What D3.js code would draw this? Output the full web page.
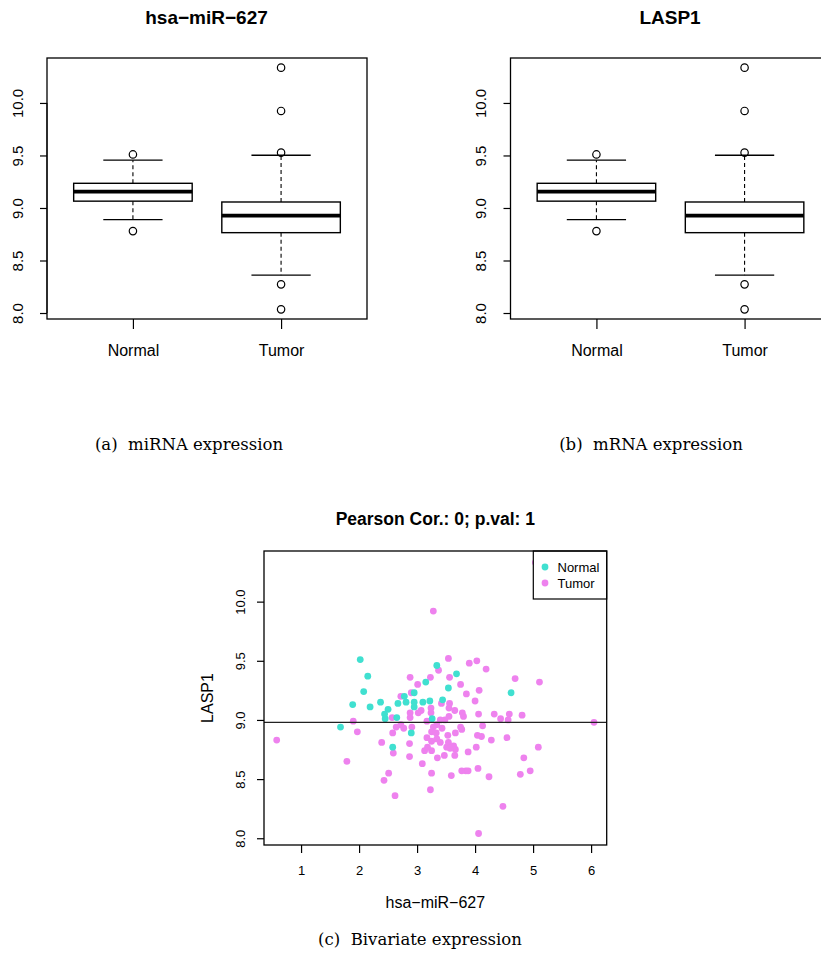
<!DOCTYPE html>
<html>
<head>
<meta charset="utf-8">
<script src="https://cdn.jsdelivr.net/npm/d3@7"></script>
<style>
  body { margin: 0; background: #fff; }
  text { font-family: "Liberation Sans", Arial, sans-serif; fill: #000; }
  .cap { font-family: "DejaVu Serif", serif; white-space: pre; }
</style>
</head>
<body>
<svg id="fig" width="821" height="965"></svg>
<script>
// ---- data ----
const groups = ["Normal", "Tumor"];
// [lower whisker, Q1, median, Q3, upper whisker]
const normalStats = [8.89, 9.065, 9.155, 9.235, 9.455];
const tumorStats  = [8.36, 8.765, 8.927, 9.057, 9.502];
const normalOut = [9.51, 8.78];
const tumorOut  = [10.336, 9.924, 9.527, 8.273, 8.035];

const yTicks = [8.0, 8.5, 9.0, 9.5, 10.0];
const xTicks = [1, 2, 3, 4, 5, 6];

// scatter: hsa-miR-627 (x) vs LASP1 (y)
const normalX = [2.02, 2.15, 2.08, 1.89, 2.19, 2.37, 2.50, 2.67, 2.78, 2.81, 2.95, 2.95, 2.95, 3.10,
                 3.15, 3.22, 2.44, 2.45, 2.65, 1.68, 2.58, 2.90, 3.26, 3.34, 3.68, 3.54, 3.44, 4.62];
const normalY = [9.51, 9.37, 9.24, 9.13, 9.11, 9.15, 9.09, 9.14, 9.20, 9.15, 9.23, 9.15, 9.11, 9.15,
                 9.32, 9.16, 9.05, 9.01, 9.02, 8.94, 8.77, 8.89, 9.01, 9.46, 9.39, 9.27, 9.17, 9.23];
const tumorX = [5.04, 3.28, 3.54, 3.37, 3.90, 4.03, 4.19, 4.69, 5.11, 2.88, 3.01, 3.23, 3.56, 3.75,
                3.85, 4.07, 4.00, 2.72, 2.90, 3.07, 3.42, 3.56, 3.24, 3.24, 3.55, 3.65, 3.78, 3.80,
                4.06, 4.33, 4.44, 4.59, 4.57, 4.81, 2.88, 2.88, 3.02, 6.05, 3.40, 3.48, 3.55, 3.17,
                2.72, 2.77, 2.91, 3.28, 3.34, 3.43, 3.25, 3.33, 3.75, 3.77, 4.13, 3.66, 3.53, 4.04,
                4.11, 4.28, 4.55, 2.87, 3.17, 3.25, 3.34, 3.40, 3.54, 3.51, 3.63, 3.66, 3.57, 3.13,
                3.25, 3.18, 4.02, 3.88, 5.09, 3.47, 3.35, 3.65, 2.87, 4.84, 3.09, 4.05, 3.77, 3.84,
                3.88, 4.24, 4.78, 4.95, 3.25, 3.59, 3.23, 4.48, 4.06, 0.58, 1.90, 1.97, 1.79, 2.39,
                2.58, 2.59, 2.51, 2.43, 2.62, 2.57, 2.64];
const tumorY = [10.33, 9.92, 9.52, 9.42, 9.48, 9.50, 9.43, 9.35, 9.32, 9.36, 9.30, 9.36, 9.36, 9.30,
                9.22, 9.25, 9.16, 9.20, 9.23, 9.08, 9.14, 9.14, 9.10, 9.06, 9.10, 9.08, 9.06, 9.03,
                9.05, 9.05, 9.01, 9.05, 9.00, 9.04, 9.06, 9.02, 9.06, 8.98, 9.00, 9.00, 9.03, 8.99,
                8.96, 8.93, 8.94, 8.94, 8.96, 8.93, 8.90, 8.89, 8.94, 8.92, 8.95, 8.89, 8.87, 8.87,
                8.86, 8.83, 8.85, 8.80, 8.85, 8.82, 8.84, 8.81, 8.81, 8.77, 8.78, 8.75, 8.76, 8.74,
                8.74, 8.77, 8.77, 8.73, 8.77, 8.70, 8.68, 8.70, 8.69, 8.68, 8.63, 8.59, 8.57, 8.57,
                8.57, 8.52, 8.54, 8.57, 8.55, 8.53, 8.41, 8.27, 8.04, 8.83, 8.99, 8.90, 8.65, 8.81,
                8.89, 8.72, 8.55, 8.49, 8.36, 9.02, 8.94];
const fitLine = 8.98;

const colors = { Normal: "#40E0D0", Tumor: "#EE82EE" };

const svg = d3.select("#fig");
const yDomain = [7.943, 10.428];

// ---- boxplot panels ----
function boxPanel(dx, title) {
  const left = 47 + dx, right = 367 + dx, top = 58, bottom = 319;
  const g = svg.append("g");
  const x = d3.scaleLinear().domain([0.42, 2.58]).range([left, right]);
  const y = d3.scaleLinear().domain(yDomain).range([bottom, top]);
  const stats = [normalStats, tumorStats];
  const outs = [normalOut, tumorOut];
  const bw = x(1.4) - x(1); // 0.4 half width

  groups.forEach((grp, i) => {
    const cx = x(i + 1), s = stats[i];
    // whiskers
    g.append("line").attr("x1", cx).attr("x2", cx).attr("y1", y(s[3])).attr("y2", y(s[4]))
      .attr("stroke", "#000").attr("stroke-width", 1.1).attr("stroke-dasharray", "4,3");
    g.append("line").attr("x1", cx).attr("x2", cx).attr("y1", y(s[1])).attr("y2", y(s[0]))
      .attr("stroke", "#000").attr("stroke-width", 1.1).attr("stroke-dasharray", "4,3");
    [s[0], s[4]].forEach(v => {
      g.append("line").attr("x1", cx - bw / 2).attr("x2", cx + bw / 2).attr("y1", y(v)).attr("y2", y(v))
        .attr("stroke", "#000").attr("stroke-width", 1.3);
    });
    g.append("rect").attr("x", cx - bw).attr("width", 2 * bw)
      .attr("y", y(s[3])).attr("height", y(s[1]) - y(s[3]))
      .attr("fill", "#fff").attr("stroke", "#000").attr("stroke-width", 1.4);
    g.append("line").attr("x1", cx - bw).attr("x2", cx + bw).attr("y1", y(s[2])).attr("y2", y(s[2]))
      .attr("stroke", "#000").attr("stroke-width", 3.8);
    g.selectAll(null).data(outs[i]).enter().append("circle")
      .attr("cx", cx).attr("cy", d => y(d)).attr("r", 3.7)
      .attr("fill", "none").attr("stroke", "#000").attr("stroke-width", 1.2);
  });

  g.append("rect").attr("x", left).attr("y", top).attr("width", right - left).attr("height", bottom - top)
    .attr("fill", "none").attr("stroke", "#000").attr("stroke-width", 1.3);

  const ax = g.append("g").attr("transform", `translate(0,${bottom})`)
    .call(d3.axisBottom(x).tickValues([1, 2]).tickFormat((d, i) => groups[i]).tickSize(10).tickSizeOuter(0));
  ax.select(".domain").remove();
  ax.selectAll("line").attr("stroke", "#000").attr("stroke-width", 1.2);
  ax.selectAll("text").attr("y", 36.5).attr("dy", null).style("font-size", "16px");

  const ay = g.append("g").attr("transform", `translate(${left},0)`)
    .call(d3.axisLeft(y).tickValues(yTicks).tickFormat(d3.format(".1f")).tickSize(7));
  ay.select(".domain").attr("d", `M0,${y(8)}V${y(10)}`).attr("stroke", "#000");
  ay.selectAll("line").attr("stroke", "#000").attr("stroke-width", 1.2);
  ay.selectAll("text").attr("transform", "rotate(-90)").attr("x", 0).attr("y", -(left - dx - 22.5))
    .attr("dy", null).attr("text-anchor", "middle").style("font-size", "15px");

  g.append("text").attr("x", (left + right) / 2 - 0.5).attr("y", 24).attr("text-anchor", "middle")
    .style("font-size", "19px").style("font-weight", "bold").text(title);
}
boxPanel(0, "hsa\u2212miR\u2212627");
boxPanel(463.5, "LASP1");

svg.append("text").attr("class", "cap").attr("x", 189).attr("y", 450).attr("text-anchor", "middle")
  .style("font-size", "16.5px").text("(a)  miRNA expression");
svg.append("text").attr("class", "cap").attr("x", 651).attr("y", 450).attr("text-anchor", "middle")
  .style("font-size", "16.5px").text("(b)  mRNA expression");

// ---- scatter panel ----
(function () {
  const left = 264, right = 606.7, top = 551, bottom = 845;
  const g = svg.append("g");
  const x = d3.scaleLinear().domain([0.361, 6.269]).range([left, right]);
  const y = d3.scaleLinear().domain(yDomain).range([bottom, top]);

  const pts = tumorX.map((v, i) => ({ x: v, y: tumorY[i], grp: "Tumor" }))
    .concat(normalX.map((v, i) => ({ x: v, y: normalY[i], grp: "Normal" })));

  g.selectAll("circle.pt").data(pts).enter().append("circle").attr("class", "pt")
    .attr("cx", d => x(d.x)).attr("cy", d => y(d.y)).attr("r", 3.4)
    .attr("fill", d => colors[d.grp]);

  g.append("line").attr("x1", left).attr("x2", right).attr("y1", y(fitLine)).attr("y2", y(fitLine))
    .attr("stroke", "#222").attr("stroke-width", 1.3);

  // legend
  const lg = g.append("g");
  lg.append("rect").attr("x", 533.3).attr("y", top).attr("width", right - 533.3).attr("height", 48)
    .attr("fill", "#fff").attr("stroke", "#000").attr("stroke-width", 1.2);
  groups.forEach((grp, i) => {
    lg.append("circle").attr("cx", 545).attr("cy", 567 + i * 16).attr("r", 3.4).attr("fill", colors[grp]);
    lg.append("text").attr("x", 557.5).attr("y", 571.5 + i * 16).style("font-size", "13px").text(grp);
  });

  g.append("rect").attr("x", left).attr("y", top).attr("width", right - left).attr("height", bottom - top)
    .attr("fill", "none").attr("stroke", "#000").attr("stroke-width", 1.3);

  const ax = g.append("g").attr("transform", `translate(0,${bottom})`)
    .call(d3.axisBottom(x).tickValues(xTicks).tickFormat(d3.format("d")).tickSize(8));
  ax.select(".domain").remove();
  ax.selectAll("line").attr("stroke", "#000").attr("stroke-width", 1.2);
  ax.selectAll("text").attr("y", 29.5).attr("dy", null).style("font-size", "13px");

  const ay = g.append("g").attr("transform", `translate(${left},0)`)
    .call(d3.axisLeft(y).tickValues(yTicks).tickFormat(d3.format(".1f")).tickSize(7));
  ay.select(".domain").remove();
  ay.selectAll("line").attr("stroke", "#000").attr("stroke-width", 1.2);
  ay.selectAll("text").attr("transform", "rotate(-90)").attr("x", 0).attr("y", -19.3)
    .attr("dy", null).attr("text-anchor", "middle").style("font-size", "13px");

  g.append("text").attr("x", (left + right) / 2).attr("y", 525).attr("text-anchor", "middle")
    .style("font-size", "17.5px").style("font-weight", "bold").text("Pearson Cor.: 0; p.val: 1");
  g.append("text").attr("x", (left + right) / 2).attr("y", 907.5).attr("text-anchor", "middle")
    .style("font-size", "16px").text("hsa\u2212miR\u2212627");
  g.append("text").attr("transform", `translate(212.7,${(top + bottom) / 2}) rotate(-90)`)
    .attr("text-anchor", "middle").style("font-size", "16px").text("LASP1");

  svg.append("text").attr("class", "cap").attr("x", 420).attr("y", 945).attr("text-anchor", "middle")
    .style("font-size", "16.5px").text("(c)  Bivariate expression");
})();
</script>
</body>
</html>
